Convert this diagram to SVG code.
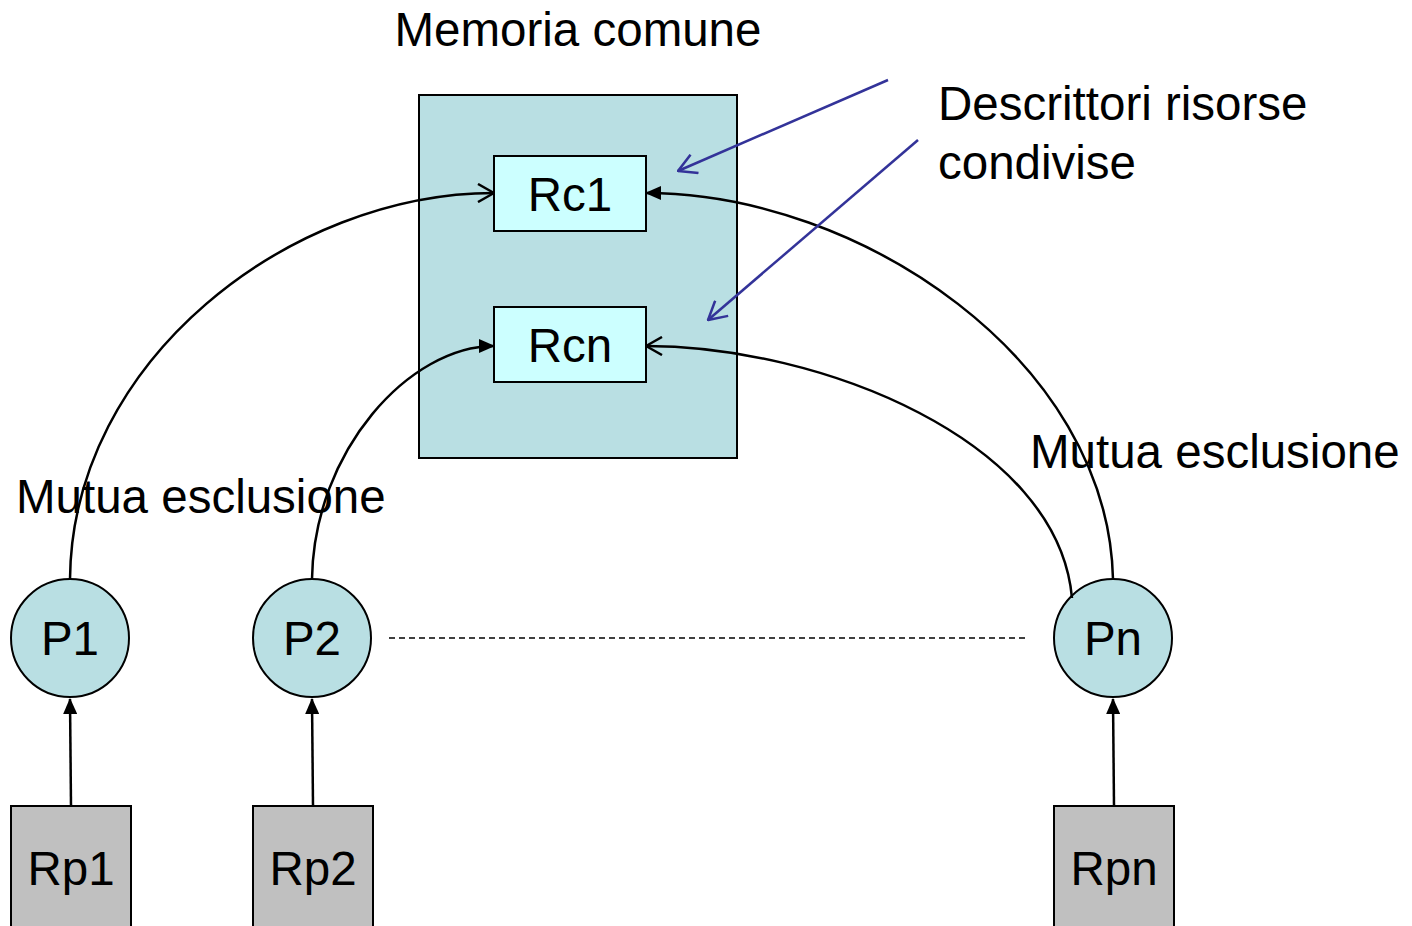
<svg xmlns="http://www.w3.org/2000/svg" width="1412" height="926" viewBox="0 0 1412 926">
<defs>
<style>
text{font-family:"Liberation Sans",Arial,sans-serif;font-size:47.5px;fill:#000}
.c{text-anchor:middle}
.box{stroke:#000;stroke-width:2}
.conn{fill:none;stroke:#000;stroke-width:2.5}
.blue{fill:none;stroke:#333399;stroke-width:2.5}
</style>
<marker id="fill" viewBox="0 0 16 14" refX="15" refY="7" markerWidth="16" markerHeight="14" markerUnits="userSpaceOnUse" orient="auto"><path d="M0,0 L16,7 L0,14 z" fill="#000"/></marker>
<marker id="open" viewBox="0 0 18 20" refX="17" refY="10" markerWidth="18" markerHeight="20" markerUnits="userSpaceOnUse" orient="auto"><path d="M1,1 L17,10 L1,19" fill="none" stroke="#000" stroke-width="2.5"/></marker>
<marker id="openb" viewBox="0 0 20 22" refX="19" refY="11" markerWidth="20" markerHeight="22" markerUnits="userSpaceOnUse" orient="auto"><path d="M1,1 L19,11 L1,21" fill="none" stroke="#333399" stroke-width="2.5"/></marker>
</defs>
<rect width="1412" height="926" fill="#fff"/>
<g id="memoria">
<rect class="box" x="419" y="95" width="318" height="363" fill="#b9dfe3"/>
<text class="c" x="578" y="46">Memoria comune</text>
</g>
<g id="rc1"><rect class="box" x="494" y="156" width="152" height="75" fill="#ccffff"/><text class="c" x="570" y="211">Rc1</text></g>
<g id="rcn"><rect class="box" x="494" y="307" width="152" height="75" fill="#ccffff"/><text class="c" x="570" y="362">Rcn</text></g>
<g id="p1"><circle class="box" cx="70" cy="638" r="59" fill="#b9dfe3"/><text class="c" x="70" y="655">P1</text></g>
<g id="p2"><circle class="box" cx="312" cy="638" r="59" fill="#b9dfe3"/><text class="c" x="312" y="655">P2</text></g>
<g id="pn"><circle class="box" cx="1113" cy="638" r="59" fill="#b9dfe3"/><text class="c" x="1113" y="655">Pn</text></g>
<g id="rp1"><rect class="box" x="11" y="806" width="120" height="130" fill="#c0c0c0"/><text class="c" x="71" y="885">Rp1</text></g>
<g id="rp2"><rect class="box" x="253" y="806" width="120" height="130" fill="#c0c0c0"/><text class="c" x="313" y="885">Rp2</text></g>
<g id="rpn"><rect class="box" x="1054" y="806" width="120" height="130" fill="#c0c0c0"/><text class="c" x="1114" y="885">Rpn</text></g>
<g id="labels">
<text x="938" y="120">Descrittori risorse</text>
<text x="938" y="179">condivise</text>
<text x="16" y="513">Mutua esclusione</text>
<text x="1030" y="468">Mutua esclusione</text>
</g>
<g id="connectors">
<path class="conn" marker-end="url(#fill)" d="M71,806 L70,699"/>
<path class="conn" marker-end="url(#fill)" d="M313,806 L312,699"/>
<path class="conn" marker-end="url(#fill)" d="M1114,806 L1113,699"/>
<path class="conn" marker-end="url(#open)" d="M70,579 C72,360 290,193 494,193"/>
<path class="conn" marker-end="url(#fill)" d="M312,579 C314,450 410,346 494,346"/>
<path class="conn" marker-end="url(#fill)" d="M1113,579 C1108,360 860,193 646,193"/>
<path class="conn" marker-end="url(#open)" d="M1072,598 C1058,440 820,346 646,346"/>
<path d="M389,638 L1025,638" fill="none" stroke="#000" stroke-width="1.3" stroke-dasharray="6,4"/>
<path class="blue" marker-end="url(#openb)" d="M888,80 L678,171"/>
<path class="blue" marker-end="url(#openb)" d="M918,140 L708,320"/>
</g>
</svg>
